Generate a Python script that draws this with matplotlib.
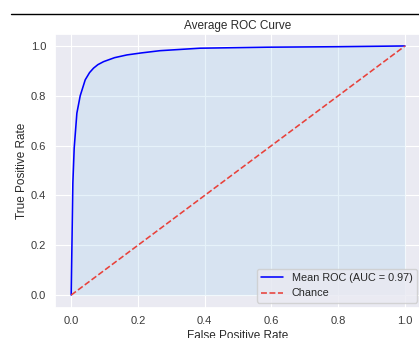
import matplotlib
matplotlib.use("Agg")
import matplotlib.pyplot as plt
import seaborn as sns
from matplotlib.lines import Line2D

sns.set_theme(style="darkgrid")
plt.rcParams['font.family'] = ['Liberation Sans', 'DejaVu Sans']

fpr = [0.0, 0.0, 0.005, 0.009, 0.017, 0.027, 0.042, 0.055, 0.067, 0.08, 0.097, 0.13, 0.167, 0.21, 0.266, 0.386, 0.587, 0.8, 1.0]
tpr = [0.0, 0.0, 0.45, 0.59, 0.73, 0.80, 0.864, 0.893, 0.911, 0.925, 0.937, 0.953, 0.964, 0.972, 0.981, 0.991, 0.995, 0.997, 1.0]
auc_value = 0.97
ticks = [0.0, 0.2, 0.4, 0.6, 0.8, 1.0]

W, H = 419, 338
fig = plt.figure(figsize=(W / 100, H / 100), dpi=100)
left, right, top, bottom = 54.5, 421.7, 33.5, 307.5
ax = fig.add_axes([left / W, 1 - bottom / H, (right - left) / W, (bottom - top) / H])

ax.plot(fpr, tpr, color='blue', lw=1.15, label=f'Mean ROC (AUC = {auc_value:.2f})')
ax.fill_between(fpr, tpr, 0, color='#aed6ef', alpha=0.3, lw=0)
ax.plot([0, 1], [0, 1], linestyle='--', color='#e8413a', lw=1.15, label='Chance')
ax.set_xlim(-0.05, 1.05)
ax.set_ylim(-0.05, 1.05)
ax.set_xticks(ticks)
ax.set_yticks(ticks)
ax.grid(True, color='white', lw=0.8)
ax.tick_params(labelsize=8, colors='#3a3a3a', length=0, pad=6)
ax.set_xlabel('False Positive Rate', fontsize=8.5, color='#2a2a2a', labelpad=3)
ax.set_ylabel('True Positive Rate', fontsize=8.5, color='#2a2a2a', labelpad=2)
ax.set_title('Average ROC Curve', fontsize=8.5, color='#2a2a2a', pad=3)
ax.legend(loc='lower right', fontsize=7.8, frameon=True, borderaxespad=0.45)

fig.add_artist(Line2D([11 / W, 1.0], [1 - 13.5 / H, 1 - 13.5 / H], color='black', lw=1.0))

fig.savefig('out.png', dpi=100)
